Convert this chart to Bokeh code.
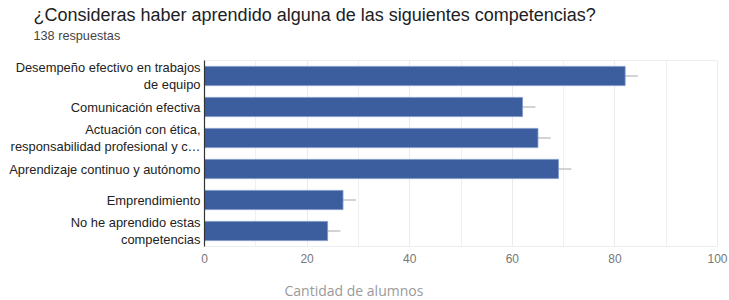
from bokeh.plotting import figure
from bokeh.models import Title, FixedTicker, ColumnDataSource, LinearAxis
from bokeh.embed import file_html
from bokeh.resources import INLINE

categories = [
    "Desempeño efectivo en trabajos\nde equipo",
    "Comunicación efectiva",
    "Actuación con ética,\nresponsabilidad profesional y c…",
    "Aprendizaje continuo y autónomo",
    "Emprendimiento",
    "No he aprendido estas\ncompetencias",
]
counts = [82, 62, 65, 69, 27, 24]
whisker = [2.5, 2.5, 2.5, 2.5, 2.5, 2.5]
x_ticks = [0, 20, 40, 60, 80, 100]
x_minor = [10, 30, 50, 70, 90]
title_text = "¿Consideras haber aprendido alguna de las siguientes competencias?"
subtitle_text = "138 respuestas"
xlabel_text = "Cantidad de alumnos"

src = ColumnDataSource(dict(
    cat=categories, count=counts,
    wend=[c + w for c, w in zip(counts, whisker)],
))

p = figure(width=729, height=300, output_backend="svg", toolbar_location=None,
           y_range=list(reversed(categories)), x_range=(0, 100),
           min_border_left=204, min_border_right=12, min_border_top=0,
           min_border_bottom=0)
p.background_fill_color = "white"
p.border_fill_color = "white"
p.outline_line_color = "#ededed"

p.segment(x0="count", x1="wend", y0="cat", y1="cat", source=src,
          line_color="#c4c4c4", line_width=1.5)
p.hbar(y="cat", right="count", left=0, height=0.62, source=src,
       fill_color="#3d5e9e", line_color="#7d97c9", line_width=0.8)

p.xaxis.ticker = FixedTicker(ticks=x_ticks, minor_ticks=x_minor)
p.xaxis.axis_line_color = None
p.xaxis.major_tick_line_color = None
p.xaxis.minor_tick_line_color = None
p.xaxis.major_tick_out = 0
p.xaxis.major_tick_in = 0
p.xaxis.major_label_text_font = "Liberation Sans"
p.xaxis.major_label_text_font_size = "12px"
p.xaxis.major_label_text_color = "#777777"
p.xaxis.major_label_standoff = 3

p.yaxis.axis_line_color = "#333333"
p.yaxis.axis_line_width = 1.2
p.yaxis.major_tick_line_color = None
p.yaxis.minor_tick_line_color = None
p.yaxis.major_tick_out = 0
p.yaxis.major_tick_in = 0
p.yaxis.major_label_text_font = "Liberation Sans"
p.yaxis.major_label_text_font_size = "12.9px"
p.yaxis.major_label_text_color = "#222222"
p.yaxis.major_label_text_line_height = 1.1
p.yaxis.major_label_standoff = 4

p.xgrid.grid_line_color = "#ebebeb"
p.xgrid.minor_grid_line_color = "#f0f0f0"
p.ygrid.grid_line_color = None


def spacer(size):
    return LinearAxis(ticker=FixedTicker(ticks=[0]), major_tick_out=size,
                      major_tick_in=0, axis_line_color=None,
                      major_tick_line_color="white", minor_tick_line_color=None,
                      major_label_overrides={0: ""}, major_label_standoff=0,
                      major_label_text_font_size="1px")


p.add_layout(spacer(18), "above")
sub = Title(text=subtitle_text, align="left", offset=-171, standoff=0,
            text_font="Liberation Sans", text_font_size="12.7px", text_color="#444444",
            text_font_style="normal")
ttl = Title(text=title_text, align="left", offset=-171, standoff=4,
            text_font="Liberation Sans", text_font_size="18px", text_color="#202124",
            text_font_style="normal")
p.add_layout(sub, "above")
p.add_layout(ttl, "above")

p.add_layout(spacer(12), "below")
xl = Title(text=xlabel_text, align="left", offset=80, standoff=2,
           text_font="Open Sans", text_font_size="14px", text_color="#9a9a9a",
           text_font_style="normal")
p.add_layout(xl, "below")

open("out.html", "w").write(file_html(p, INLINE))
